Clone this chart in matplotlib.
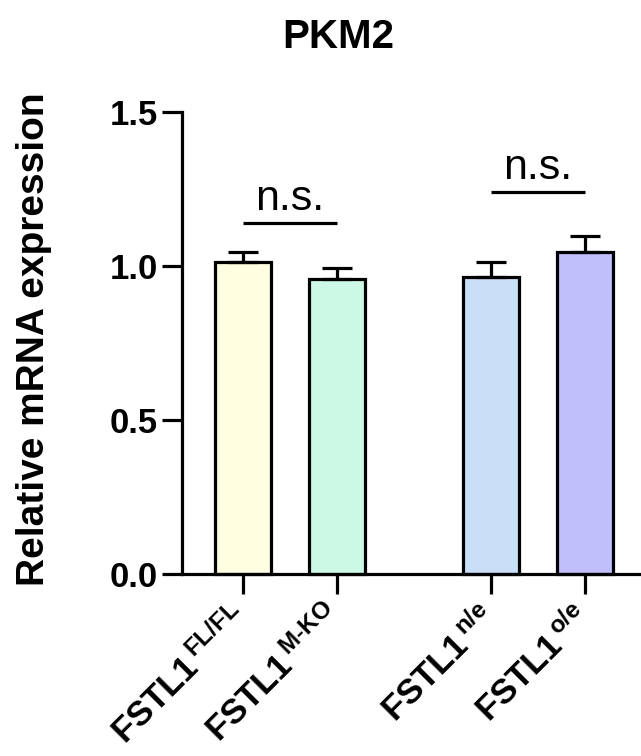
import numpy as np
import matplotlib
matplotlib.use("Agg")
import matplotlib.pyplot as plt

plt.rcParams.update({
    "font.family": ["Liberation Sans", "DejaVu Sans"],
    "font.weight": "bold",
    "mathtext.fontset": "custom",
    "mathtext.rm": "Liberation Sans",
    "mathtext.it": "Liberation Sans:italic",
    "mathtext.bf": "Liberation Sans:bold",
})

# data
groups = ["FL/FL", "M-KO", "n/e", "o/e"]
means = [1.013, 0.958, 0.964, 1.045]
sems = [0.032, 0.036, 0.049, 0.052]
colors = ["#FEFEE0", "#CCF8E6", "#C9DEF7", "#C1BEFC"]
ns_pairs = [(0, 1), (2, 3)]
ns_heights = [1.14, 1.24]
yticks = [0.0, 0.5, 1.0, 1.5]

xpos = np.array([0.0, 1.0, 2.64, 3.64])
labels = [r"FSTL1$^{\,\text{%s}}$" % g for g in groups]

fig = plt.figure(figsize=(6.41, 7.56), dpi=100)
ax = fig.add_axes([0.284, 0.2407, 0.716, 0.6112])

lw = 2.3
ax.bar(xpos, means, width=0.6, color=colors, edgecolor="black",
       linewidth=lw, zorder=2, clip_on=False)
ax.errorbar(xpos, means, yerr=[np.zeros(len(means)), sems], fmt="none",
            ecolor="black", elinewidth=lw, capsize=10.5, capthick=lw,
            zorder=3, clip_on=False)

for (i, j), h in zip(ns_pairs, ns_heights):
    ax.plot([xpos[i], xpos[j]], [h, h], color="black", lw=lw,
            solid_capstyle="butt", clip_on=False)
    ax.text((xpos[i] + xpos[j]) / 2, h + 0.014, "n.s.", ha="center",
            va="bottom", fontsize=31, fontweight="normal")

ax.set_xlim(-0.649, 4.234)
ax.set_ylim(0, 1.5)
ax.set_yticks(yticks)
ax.set_yticklabels([f"{t:.1f}" for t in yticks], fontsize=25,
                   fontweight="bold")
ax.set_xticks(xpos)
ax.set_xticklabels(labels, rotation=45, ha="right", va="center",
                   rotation_mode="anchor", fontsize=25, fontweight="bold")
ax.tick_params(axis="both", length=14.5, width=lw, color="black")
ax.tick_params(axis="y", pad=3)
ax.tick_params(axis="x", pad=13)
for s in ("top", "right"):
    ax.spines[s].set_visible(False)
for s in ("left", "bottom"):
    ax.spines[s].set_linewidth(lw)
ax.spines["left"].set_capstyle("projecting")

fig.text(0.053, 0.552, "Relative mRNA expression", rotation=90,
         ha="center", va="center", fontsize=28, fontweight="bold")
fig.text(0.527, 0.936, "PKM2", ha="center", va="baseline",
         fontsize=29, fontweight="bold")

fig.savefig("out.png", dpi=100)
